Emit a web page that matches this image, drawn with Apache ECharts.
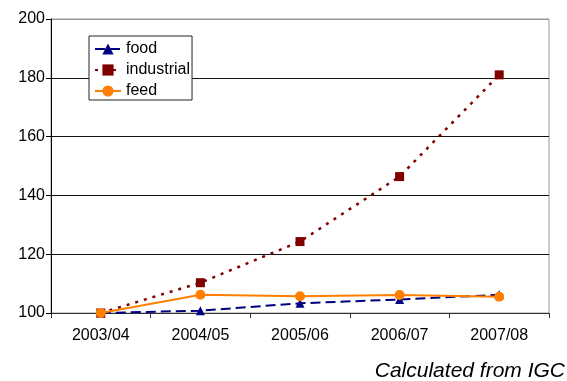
<!DOCTYPE html>
<html><head><meta charset="utf-8">
<script src="https://cdn.jsdelivr.net/npm/echarts@6/dist/echarts.min.js"></script>
<style>html,body{margin:0;padding:0;background:#fff}#c{width:567px;height:381px}</style>
</head><body><div id="c"></div>
<script>
var categories = ['2003/04','2004/05','2005/06','2006/07','2007/08'];
var food = [100, 100.8, 103.3, 104.6, 106.2];
var industrial = [100, 110.3, 124.3, 146.4, 181.0];
var feed = [100, 106.2, 105.7, 106.1, 105.5];
var yTicks = {min:100, max:200, interval:20};

var chart = echarts.init(document.getElementById('c'), null, {renderer:'canvas'});
var font = 'Arial, "Liberation Sans", sans-serif';
chart.setOption({
  animation:false,
  backgroundColor:'#fff',
  grid:{left:51, top:19, right:18, bottom:68, show:true, borderColor:'#999', borderWidth:1, backgroundColor:'transparent'},
  legend:{
    orient:'vertical', left:89, top:36,
    padding:[5,2,1,5], itemGap:5, itemWidth:26, itemHeight:14,
    backgroundColor:'#fff', borderColor:'#222', borderWidth:1,
    textStyle:{fontFamily:font, fontSize:16, lineHeight:16, color:'#000'},
    data:['food','industrial','feed']
  },
  xAxis:{
    type:'category', data:categories, boundaryGap:true,
    axisLine:{lineStyle:{color:'#333', width:1}},
    axisTick:{show:true, length:5, lineStyle:{color:'#333'}},
    axisLabel:{fontFamily:font, fontSize:16, color:'#000', margin:15},
    splitLine:{show:false}
  },
  yAxis:{
    type:'value', min:yTicks.min, max:yTicks.max, interval:yTicks.interval,
    axisLine:{show:true, lineStyle:{color:'#000', width:1}},
    axisTick:{show:true, length:5, lineStyle:{color:'#000'}},
    axisLabel:{fontFamily:font, fontSize:16, color:'#000', margin:6},
    splitLine:{show:true, lineStyle:{color:['#333','#111','#111','#111','#111','#999'], width:1}}
  },
  series:[
    {name:'food', type:'line', data:food, symbol:'triangle', symbolSize:9,
     itemStyle:{color:'#000080'}, lineStyle:{color:'#000080', width:2, type:[10,5]}},
    {name:'industrial', type:'line', data:industrial, symbol:'rect', symbolSize:9,
     itemStyle:{color:'#800000'}, lineStyle:{color:'#800000', width:2.5, type:[3,6]}},
    {name:'feed', type:'line', data:feed, symbol:'circle', symbolSize:10,
     itemStyle:{color:'#FF8000'}, lineStyle:{color:'#FF8000', width:2, type:'solid'}}
  ],
  graphic:[
    {type:'text', right:2, top:361, style:{text:'Calculated from IGC', fontFamily:font, fontSize:21, fontStyle:'italic', fill:'#000'}}
  ]
});
</script></body></html>
